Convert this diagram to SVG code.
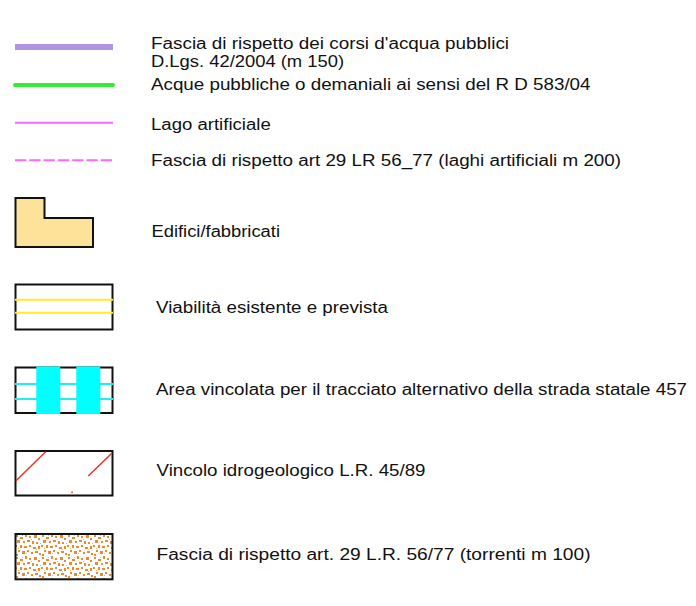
<svg xmlns="http://www.w3.org/2000/svg" width="696" height="606" viewBox="0 0 696 606">
<style>
text{font-family:"Liberation Sans",Arial,sans-serif;font-size:16px;fill:#111}
.box{fill:none;stroke:#111;stroke-width:2}
</style>
<defs>
<pattern id="speck" width="26" height="22" patternUnits="userSpaceOnUse" x="15" y="534">
<g fill="#ef8a2c">
<rect x="1" y="1" width="2" height="2"/><rect x="5" y="3" width="3" height="2"/><rect x="10" y="0" width="2" height="3"/><rect x="14" y="2" width="2" height="2"/><rect x="19" y="1" width="3" height="3"/><rect x="23" y="4" width="2" height="2"/>
<rect x="2" y="6" width="3" height="3"/><rect x="8" y="7" width="2" height="2"/><rect x="12" y="6" width="3" height="2"/><rect x="17" y="7" width="2" height="3"/><rect x="21" y="8" width="2" height="2"/>
<rect x="0" y="11" width="2" height="2"/><rect x="5" y="11" width="2" height="3"/><rect x="9" y="12" width="3" height="2"/><rect x="14" y="11" width="2" height="2"/><rect x="18" y="13" width="3" height="2"/><rect x="23" y="12" width="2" height="3"/>
<rect x="3" y="16" width="2" height="2"/><rect x="7" y="17" width="3" height="3"/><rect x="12" y="16" width="2" height="2"/><rect x="16" y="18" width="2" height="2"/><rect x="20" y="17" width="3" height="2"/><rect x="1" y="20" width="2" height="2"/><rect x="24" y="19" width="2" height="2"/>
</g>
<g fill="#f6b070">
<rect x="7" y="1" width="1" height="1"/><rect x="16" y="5" width="1" height="1"/><rect x="3" y="14" width="1" height="1"/><rect x="21" y="15" width="1" height="1"/><rect x="11" y="19" width="1" height="1"/><rect x="25" y="9" width="1" height="1"/>
</g>
</pattern>
</defs>

<g id="legend-fascia-corsi">
<rect x="15" y="44" width="98" height="6" fill="#b094e0"/>
<text x="151" y="49" textLength="358" lengthAdjust="spacingAndGlyphs">Fascia di rispetto dei corsi d'acqua pubblici</text>
<text x="151" y="66.5" textLength="193" lengthAdjust="spacingAndGlyphs">D.Lgs. 42/2004 (m 150)</text>
</g>
<g id="legend-acque">
<line x1="15" y1="85" x2="113" y2="85" stroke="#33ee33" stroke-width="4" stroke-linecap="round"/>
<text x="151" y="90" textLength="439.5" lengthAdjust="spacingAndGlyphs">Acque pubbliche o demaniali ai sensi del R D 583/04</text>
</g>
<g id="legend-lago">
<line x1="15" y1="122.7" x2="113" y2="122.7" stroke="#ff66ff" stroke-width="2"/>
<text x="151" y="130" textLength="119.7" lengthAdjust="spacingAndGlyphs">Lago artificiale</text>
</g>
<g id="legend-fascia-laghi">
<line x1="15" y1="160.3" x2="113" y2="160.3" stroke="#ff66ff" stroke-width="2" stroke-dasharray="11.3 3"/>
<text x="151" y="166" textLength="470" lengthAdjust="spacingAndGlyphs">Fascia di rispetto art 29 LR 56_77 (laghi artificiali m 200)</text>
</g>
<g id="legend-edifici">
<path d="M15.5 198 H44.5 V218 H93 V247 H15.5 Z" fill="#fde29a" stroke="#111" stroke-width="2"/>
<text x="151.5" y="237" textLength="128.5" lengthAdjust="spacingAndGlyphs">Edifici/fabbricati</text>
</g>
<g id="legend-viabilita">
<rect x="15.5" y="284.5" width="97" height="45" fill="#fff" class="box"/>
<line x1="15" y1="299.7" x2="113" y2="299.7" stroke="#ffee22" stroke-width="2"/>
<line x1="15" y1="312.7" x2="113" y2="312.7" stroke="#ffee22" stroke-width="2"/>
<text x="156" y="312.5" textLength="232" lengthAdjust="spacingAndGlyphs">Viabilità esistente e prevista</text>
</g>
<g id="legend-area-vincolata">
<rect x="15.5" y="367.5" width="97" height="45.5" fill="#fff" class="box"/>
<line x1="15" y1="384" x2="113" y2="384" stroke="#22eeee" stroke-width="2"/>
<line x1="15" y1="399" x2="113" y2="399" stroke="#22eeee" stroke-width="2"/>
<rect x="36.3" y="366.5" width="24" height="47.5" fill="#00ffff"/>
<rect x="76.3" y="366.5" width="24" height="47.5" fill="#00ffff"/>
<text x="156" y="395" textLength="531" lengthAdjust="spacingAndGlyphs">Area vincolata per il tracciato alternativo della strada statale 457</text>
</g>
<g id="legend-vincolo-idro">
<rect x="15.5" y="451" width="97" height="44.5" fill="#fff" class="box"/>
<line x1="16" y1="480.7" x2="45.7" y2="451.7" stroke="#ee3322" stroke-width="1.5"/>
<line x1="88.3" y1="476" x2="112" y2="453" stroke="#ee3322" stroke-width="1.5"/>
<rect x="71.3" y="491.6" width="1.5" height="1.5" fill="#ee3322"/>
<text x="156.5" y="476" textLength="269" lengthAdjust="spacingAndGlyphs">Vincolo idrogeologico L.R. 45/89</text>
</g>
<g id="legend-fascia-torrenti">
<rect x="15.5" y="534" width="97" height="45.3" fill="url(#speck)" stroke="#111" stroke-width="2"/>
<text x="156.5" y="560" textLength="434" lengthAdjust="spacingAndGlyphs">Fascia di rispetto art. 29 L.R. 56/77 (torrenti m 100)</text>
</g>
</svg>
